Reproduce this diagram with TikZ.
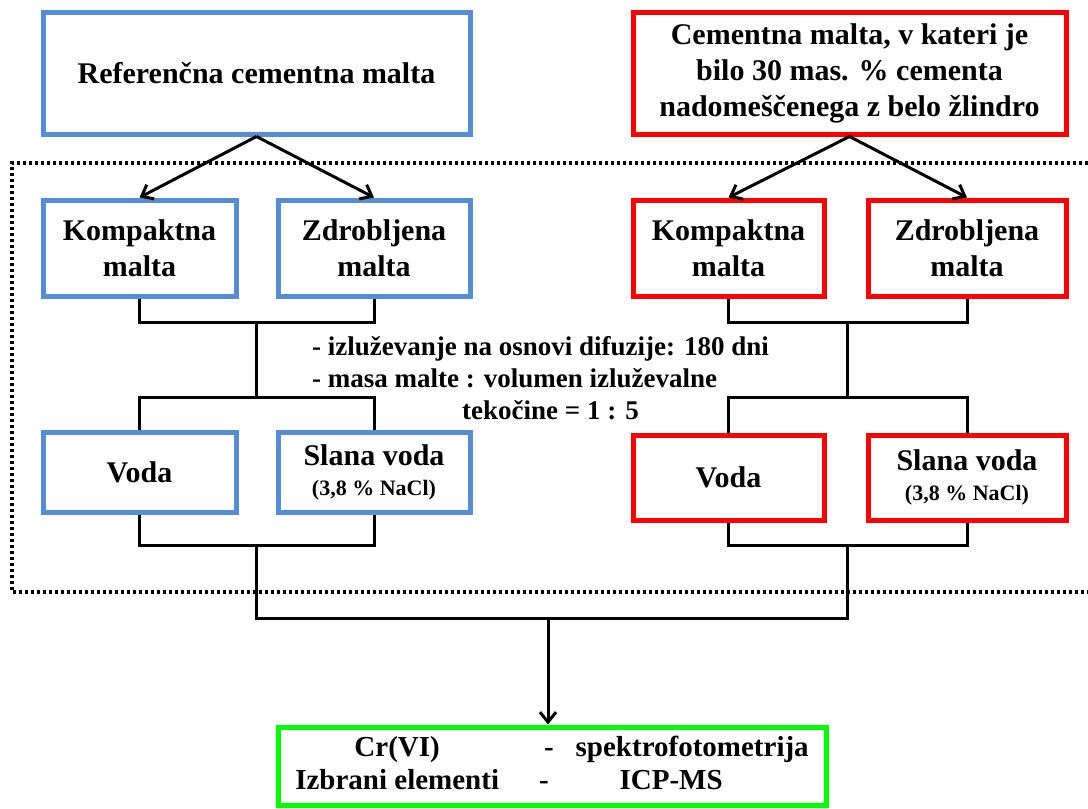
\documentclass[tikz,border=0pt]{standalone}
\usepackage{fontspec}
\setmainfont{Liberation Serif}
\usetikzlibrary{arrows.meta}
\definecolor{bbl}{RGB}{85,142,213}
\definecolor{rrd}{RGB}{255,0,0}
\definecolor{ggr}{RGB}{0,255,0}
\tikzset{
  box/.style={draw, line width=5pt, fill=white, align=center, inner sep=0pt,
    font=\bfseries\fontsize{30}{36}\selectfont},
  bluebox/.style={box, draw=bbl},
  redbox/.style={box, draw=rrd},
  conn/.style={line width=3pt, black},
  arr/.style={conn, -{Straight Barb[length=10pt,width=16pt,line width=3pt]}},
  frame/.style={line width=3.2pt, dash pattern=on 3pt off 3pt},
}
\begin{document}
\begin{tikzpicture}[x=1pt,y=-1pt]
\useasboundingbox (0,0) rectangle (1088,809);
% dotted frame
\draw[frame] (1088,163) -- (12,163) -- (12,592) -- (1088,592);
% top boxes
\node[bluebox, minimum width=427pt, minimum height=122pt] (bTop) at (256.5,73) {Referenčna cementna malta};
\node[redbox, minimum width=433pt, minimum height=122pt] (rTop) at (849.5,73) {Cementna malta, v kateri je\\bilo 30 mas. \% cementa\\nadomeščenega z belo žlindro};
% second row
\node[bluebox, minimum width=193pt, minimum height=96pt] (bK) at (139.5,248) {Kompaktna\\malta};
\node[bluebox, minimum width=192pt, minimum height=96pt] (bZ) at (374,248) {Zdrobljena\\malta};
\node[redbox, minimum width=191pt, minimum height=96pt] (rK) at (728.5,248) {Kompaktna\\malta};
\node[redbox, minimum width=198pt, minimum height=96pt] (rZ) at (967,248) {Zdrobljena\\malta};
% third row
\node[bluebox, minimum width=193pt, minimum height=80pt] (bV) at (139.5,472) {Voda};
\node[bluebox, minimum width=192pt, minimum height=80pt] (bS) at (374,472) {Slana voda\\[-6pt]{\fontsize{22}{26}\selectfont (3,8 \% NaCl)}};
\node[redbox, minimum width=191pt, minimum height=85pt] (rV) at (728.5,477.5) {Voda};
\node[redbox, minimum width=198pt, minimum height=85pt] (rS) at (967,477.5) {Slana voda\\[-6pt]{\fontsize{22}{26}\selectfont (3,8 \% NaCl)}};
% result box
\node[box, draw=ggr, minimum width=548pt, minimum height=78pt] (res) at (552,766)
  {\fontsize{29}{33}\selectfont\begin{tabular}{@{}c@{\hspace{45pt}}c@{\hspace{22pt}}c@{}}
   Cr(VI) & - & spektrofotometrija\\
   Izbrani elementi & \hspace*{-10pt}- & ICP-MS\hspace*{42pt}
  \end{tabular}};
% note text
\node[anchor=west, align=left, inner sep=0pt, font=\bfseries\fontsize{27}{32}\selectfont] (note) at (312,378)
  {- izluževanje na osnovi difuzije: 180 dni\\
   - masa malte : volumen izluževalne\\
   \hspace*{150pt}tekočine = 1 : 5};
% junction coordinates
\coordinate (bj1) at (256.75,322);
\coordinate (bj2) at (256.75,397);
\coordinate (bj3) at (256.75,545);
\coordinate (rj1) at (847.75,322);
\coordinate (rj2) at (847.75,397);
\coordinate (rj3) at (847.75,545);
\coordinate (mid) at (548,618);
% arrows from top
\draw[arr] (bTop.south) -- (bK.north);
\draw[arr] (bTop.south) -- (bZ.north);
\draw[arr] (rTop.south) -- (rK.north);
\draw[arr] (rTop.south) -- (rZ.north);
% connectors
\draw[conn] (bK.south) |- (bj1) -| (bZ.south);
\draw[conn] (bj1) -- (bj2);
\draw[conn] (bV.north) |- (bj2) -| (bS.north);
\draw[conn] (bV.south) |- (bj3) -| (bS.south);
\draw[conn] (rK.south) |- (rj1) -| (rZ.south);
\draw[conn] (rj1) -- (rj2);
\draw[conn] (rV.north) |- (rj2) -| (rS.north);
\draw[conn] (rV.south) |- (rj3) -| (rS.south);
\draw[conn] (bj3) |- (mid) -| (rj3);
\draw[arr] (mid) -- (mid |- res.north);
\end{tikzpicture}
\end{document}
